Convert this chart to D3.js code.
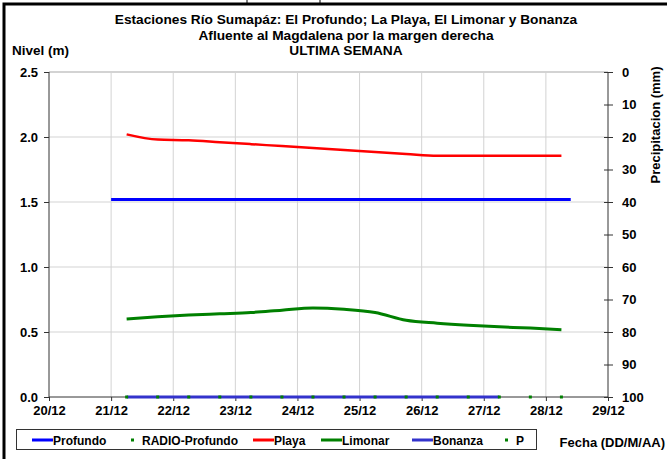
<!DOCTYPE html>
<meta charset="utf-8">
<script src="https://d3js.org/d3.v7.min.js"></script>
<style>
  body { margin: 0; background: #fff; }
  text { font-family: "Liberation Sans", Arial, sans-serif; font-weight: bold; fill: #000; }
</style>
<div id="chart"></div>
<script>

// fechas en dias de diciembre (21.25 = 21/12 06:00)
var halfDays = [21.25, 21.75, 22.25, 22.75, 23.25, 23.75, 24.25, 24.75, 25.25, 25.75, 26.25, 26.75, 27.25, 27.75, 28.25];
var playa    = [2.02, 1.98, 1.975, 1.96, 1.945, 1.93, 1.915, 1.90, 1.885, 1.87, 1.855, 1.855, 1.855, 1.855, 1.855];
var limonar  = [0.60, 0.617, 0.630, 0.640, 0.650, 0.668, 0.685, 0.675, 0.65, 0.59, 0.568, 0.552, 0.54, 0.53, 0.518];
var radioProfundo = [0, 0, 0, 0, 0, 0, 0, 0, 0, 0, 0, 0, 0, 0, 0];
var profundoDays = [21.0, 28.4];
var profundo     = [1.52, 1.52];
var bonanzaDays  = [21.25, 27.25];
var bonanza      = [0, 0];

var xTicks = [20, 21, 22, 23, 24, 25, 26, 27, 28, 29];
var yTicks = [0, 0.5, 1.0, 1.5, 2.0, 2.5];
var pTicks = [0, 10, 20, 30, 40, 50, 60, 70, 80, 90, 100];

var titles = ["Estaciones Río Sumapáz: El Profundo; La Playa, El Limonar y Bonanza",
              "Afluente al Magdalena por la margen derecha",
              "ULTIMA SEMANA"];

var W = 667, H = 459;
var margin = {top: 72, right: 59, bottom: 62, left: 49},
    width = W - margin.left - margin.right,
    height = H - margin.top - margin.bottom;

var svg = d3.select("#chart").append("svg")
    .attr("width", W).attr("height", H);

// marco
svg.append("path").attr("d", "M4,460 V4 H668").attr("fill", "none")
  .attr("stroke", "#000").attr("stroke-width", 3);
svg.append("line").attr("x1", 247).attr("x2", 247).attr("y1", 0).attr("y2", 4).attr("stroke", "#000");
svg.append("line").attr("x1", 320).attr("x2", 320).attr("y1", 0).attr("y2", 4).attr("stroke", "#000");

// titulos
svg.selectAll(".title").data(titles).enter().append("text")
  .attr("x", 346).attr("y", function(d, i) { return 24 + i * 15.5; })
  .attr("text-anchor", "middle").style("font-size", "13.7px")
  .text(function(d) { return d; });

svg.append("text").attr("x", 12).attr("y", 55).style("font-size", "13.5px").text("Nivel (m)");

var g = svg.append("g").attr("transform", "translate(" + margin.left + "," + margin.top + ")");

var x = d3.scaleLinear().domain([20, 29]).range([0, width]);
var y = d3.scaleLinear().domain([0, 2.5]).range([height, 0]);
var yP = d3.scaleLinear().domain([0, 100]).range([0, height]);

// rejilla
g.selectAll(".hg").data(yTicks.slice(1)).enter().append("line")
  .attr("x1", 0).attr("x2", width)
  .attr("y1", function(d) { return y(d); }).attr("y2", function(d) { return y(d); })
  .attr("stroke", "#d3d3d3").attr("stroke-width", function(d) { return d === 2.5 ? 2 : 1; });
g.selectAll(".vg").data(xTicks.slice(1, -1)).enter().append("line")
  .attr("x1", function(d) { return x(d); }).attr("x2", function(d) { return x(d); })
  .attr("y1", 0).attr("y2", height)
  .attr("stroke", "#d3d3d3");

// ejes
var axL = g.append("g").call(d3.axisLeft(y).tickValues(yTicks).tickFormat(d3.format(".1f")).tickSize(5).tickPadding(6));
var axB = g.append("g").attr("transform", "translate(0," + height + ")")
  .call(d3.axisBottom(x).tickValues(xTicks).tickFormat(function(d) { return d + "/12"; }).tickSize(4).tickPadding(5));
var axR = g.append("g").attr("transform", "translate(" + width + ",0)")
  .call(d3.axisRight(yP).tickValues(pTicks).tickSize(5).tickPadding(9));
axR.selectAll(".tick line").attr("x1", -4);
[axL, axB, axR].forEach(function(a) {
  a.select(".domain").attr("stroke", "#333");
  a.selectAll(".tick line").attr("stroke", "#333");
  a.selectAll("text").style("font-size", "13px").style("font-family", '"Liberation Sans", Arial, sans-serif').style("font-weight", "bold");
});
axL.select(".domain").attr("d", "M0,0 V" + height);
axB.select(".domain").attr("d", "M0,0 H" + width);
axR.select(".domain").attr("d", "M0,0 V" + height);

svg.append("text")
  .attr("transform", "translate(660,125) rotate(-90)")
  .attr("text-anchor", "middle").style("font-size", "13px")
  .text("Precipitacion (mm)");

// series
var line = d3.line()
  .x(function(d) { return x(d[0]); })
  .y(function(d) { return y(d[1]); })
  .curve(d3.curveMonotoneX);

function pairs(xs, ys) { return xs.map(function(t, i) { return [t, ys[i]]; }); }

g.append("path").datum(pairs(bonanzaDays, bonanza)).attr("d", line)
  .attr("fill", "none").attr("stroke", "#3333cc").attr("stroke-width", 3);
g.append("path").datum(pairs(profundoDays, profundo)).attr("d", line)
  .attr("fill", "none").attr("stroke", "#0000ff").attr("stroke-width", 3);
g.append("path").datum(pairs(halfDays, playa)).attr("d", line)
  .attr("fill", "none").attr("stroke", "#ff0000").attr("stroke-width", 2.5);
g.append("path").datum(pairs(halfDays, limonar)).attr("d", line)
  .attr("fill", "none").attr("stroke", "#008000").attr("stroke-width", 3);
g.selectAll(".radio").data(pairs(halfDays, radioProfundo)).enter().append("rect")
  .attr("x", function(d) { return x(d[0]) - 1.5; })
  .attr("y", function(d) { return y(d[1]) - 1.5; })
  .attr("width", 3).attr("height", 3).attr("fill", "#008000");

// leyenda
var legend = [
  {name: "Profundo", type: "line", color: "#0000ff", x: 32},
  {name: "RADIO-Profundo", type: "dot", color: "#008000", x: 131},
  {name: "Playa", type: "line", color: "#ff0000", x: 253},
  {name: "Limonar", type: "line", color: "#008000", x: 321},
  {name: "Bonanza", type: "line", color: "#3333cc", x: 412},
  {name: "P", type: "dot", color: "#008000", x: 505}
];
svg.append("rect").attr("x", 16.5).attr("y", 429.5).attr("width", 520).attr("height", 20)
  .attr("fill", "#fff").attr("stroke", "#333");
var li = svg.selectAll(".leg").data(legend).enter().append("g")
  .attr("transform", function(d) { return "translate(" + d.x + ",440)"; });
li.filter(function(d) { return d.type === "line"; }).append("line")
  .attr("x1", 0).attr("x2", 21).attr("y1", 0).attr("y2", 0)
  .attr("stroke", function(d) { return d.color; }).attr("stroke-width", 3);
li.filter(function(d) { return d.type === "dot"; }).append("rect")
  .attr("x", 0).attr("y", -1.5).attr("width", 3).attr("height", 3)
  .attr("fill", function(d) { return d.color; });
li.append("text")
  .attr("x", function(d) { return d.type === "line" ? 21 : 11; }).attr("y", 4.5)
  .style("font-size", "12px")
  .text(function(d) { return d.name; });

svg.append("text").attr("x", 665).attr("y", 447).attr("text-anchor", "end")
  .style("font-size", "13px").text("Fecha (DD/M/AA)");

</script>
